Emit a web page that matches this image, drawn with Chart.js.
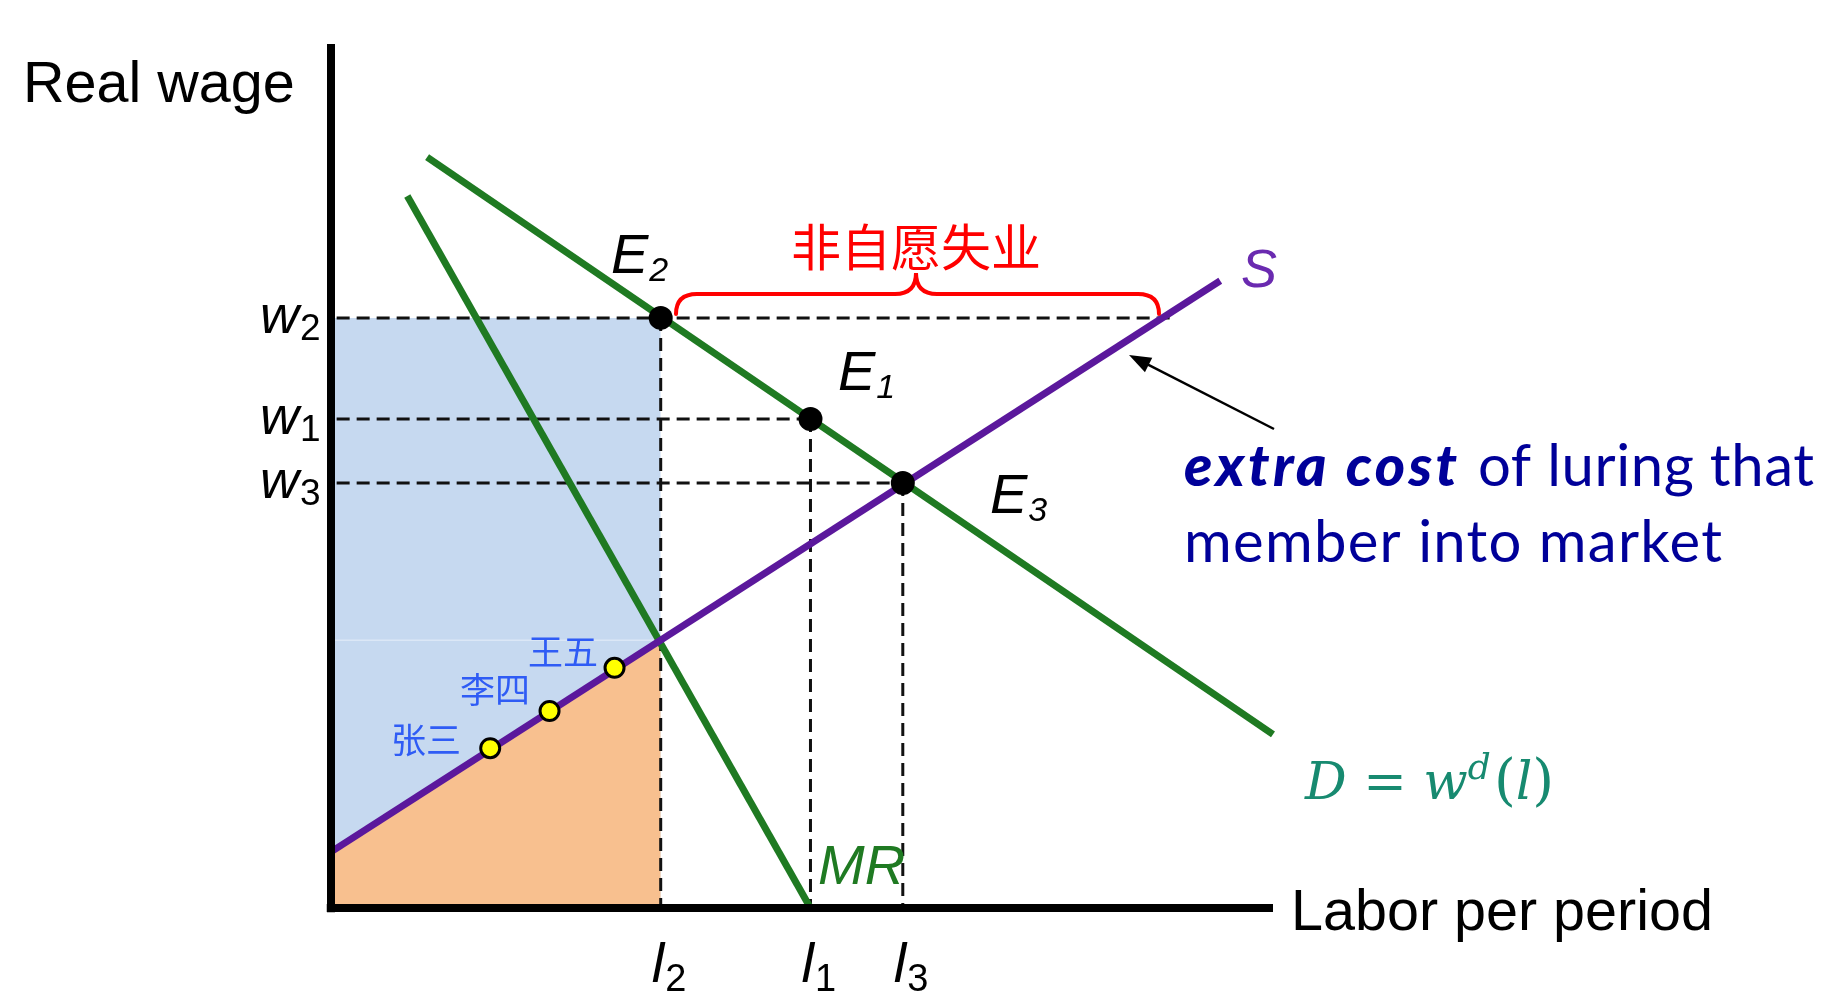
<!DOCTYPE html>
<html><head><meta charset="utf-8">
<script src="https://cdn.jsdelivr.net/npm/chart.js@4.4.0/dist/chart.umd.min.js"></script>
<style>html,body{margin:0;padding:0;background:#fff;overflow:hidden}#wrap{width:1835px;height:1000px;position:relative}</style>
</head><body><div id="wrap"><canvas id="c" width="1835" height="1000"></canvas></div>
<script>
// ---- data (axis units 0..100) ----
const supplyX = [0, 94.4];
const supplyY = [6.5, 72.6];
const demandX = [10.2, 100];
const demandY = [86.9, 20.1];
const mrX = [8.1, 50.9];
const mrY = [82.4, 0];
const eqNames = ['E2', 'E1', 'E3'];
const eqX = [35.0, 50.9, 60.7];
const eqY = [68.3, 56.6, 49.2];
const workerNames = ['张三', '李四', '王五'];
const workerX = [16.9, 23.2, 30.1];
const workerY = [18.5, 22.8, 27.8];
const wageTickLabels = ['w2', 'w1', 'w3'];
const labourTickLabels = ['l2', 'l1', 'l3'];
const orangeTopY = [6.5, 31.0];
const w2DashEndX = 89.7;
const mrSupplyCrossY = 31.0;

const pts = (xs, ys) => xs.map((x, i) => ({x, y: ys[i]}));
const GREEN = '#1f7a22', PURPLE = '#5b189c';
const dash = [13, 7];
const datasets = [];
function line(data, color, width, order, extra) {
  datasets.push(Object.assign({type: 'scatter', data, showLine: true, borderColor: color, borderWidth: width,
    pointRadius: 0, fill: false, order, borderCapStyle: 'butt'}, extra || {}));
}
// fills
line([{x: 0, y: eqY[0]}, {x: eqX[0], y: eqY[0]}], 'rgba(0,0,0,0)', 0, 100, {fill: 'origin', backgroundColor: '#c6d9f0'});
line([{x: 0, y: mrSupplyCrossY}, {x: eqX[0], y: mrSupplyCrossY}], '#dbe7f6', 1.5, 99);
line(pts([0, eqX[0]], orangeTopY), 'rgba(0,0,0,0)', 0, 98, {fill: 'origin', backgroundColor: '#f8c08f'});
// dashed guides
line([{x: 0.6, y: eqY[0]}, {x: w2DashEndX, y: eqY[0]}], '#111', 3, 90, {borderDash: dash});
line([{x: 0.6, y: eqY[1]}, {x: eqX[1], y: eqY[1]}], '#111', 3, 90, {borderDash: dash});
line([{x: 0.6, y: eqY[2]}, {x: eqX[2], y: eqY[2]}], '#111', 3, 90, {borderDash: dash});
line([{x: eqX[0], y: eqY[0]}, {x: eqX[0], y: 0}], '#111', 3, 90, {borderDash: dash});
line([{x: eqX[1], y: eqY[1]}, {x: eqX[1], y: 0}], '#111', 3, 90, {borderDash: dash});
line([{x: eqX[2], y: eqY[2]}, {x: eqX[2], y: 0}], '#111', 3, 90, {borderDash: dash});
// curves
line(pts(mrX, mrY), GREEN, 7, 50);
line(pts(demandX, demandY), GREEN, 7, 49);
line(pts(supplyX, supplyY), PURPLE, 7, 48);
// axes
line([{x: 0, y: 100}, {x: 0, y: -0.5}], '#000', 8, 20);
line([{x: -0.45, y: 0}, {x: 100, y: 0}], '#000', 8, 20);
// points
datasets.push({type: 'scatter', data: pts(eqX, eqY), pointRadius: 12, pointBackgroundColor: '#000', pointBorderWidth: 0, order: 5});
datasets.push({type: 'scatter', data: pts(workerX, workerY), pointRadius: 9.5, pointBackgroundColor: '#ffff00', pointBorderColor: '#000', pointBorderWidth: 3, order: 4});

function drawSub(ctx, base, sub, x, y, size, subSize, subDy, color, subStyle) {
  ctx.fillStyle = color;
  ctx.textBaseline = 'alphabetic';
  ctx.textAlign = 'left';
  ctx.font = 'italic ' + size + 'px "Liberation Sans", Arial, sans-serif';
  ctx.fillText(base, x, y);
  const w = ctx.measureText(base).width;
  ctx.font = (subStyle || 'italic') + ' ' + subSize + 'px "Liberation Sans", Arial, sans-serif';
  ctx.fillText(sub, x + w + 1, y + subDy);
}
function fitText(ctx, text, x, y, target) {
  ctx.letterSpacing = '0px';
  const nat = ctx.measureText(text).width;
  const sp = (target - nat) / Math.max(1, text.length - 1);
  ctx.letterSpacing = sp.toFixed(2) + 'px';
  ctx.fillText(text, x, y);
  ctx.letterSpacing = '0px';
}

const annot = {
  id: 'annot',
  afterDraw(chart) {
    const ctx = chart.ctx;
    const xs = chart.scales.x, ys = chart.scales.y;
    ctx.save();
    // axis titles
    ctx.fillStyle = '#000';
    ctx.font = '57.5px "Liberation Sans", Arial, sans-serif';
    ctx.textAlign = 'left'; ctx.textBaseline = 'alphabetic';
    ctx.fillText('Real wage', 23, 102);
    ctx.fillText('Labor per period', 1291, 930);
    // wage ticks
    wageTickLabels.forEach((t, i) => {
      const py = ys.getPixelForValue(eqY[i]);
      drawSub(ctx, t[0], t.slice(1), 260, py + 15, 54, 37, 7, '#000', 'normal');
    });
    // labour ticks
    labourTickLabels.forEach((t, i) => {
      const px = xs.getPixelForValue(eqX[i]);
      drawSub(ctx, t[0], t.slice(1), px - 9, 982, 56, 38, 9, '#000', 'normal');
    });
    // equilibrium labels
    drawSub(ctx, 'E', '2', 611, 273, 56, 34, 8, '#000');
    drawSub(ctx, 'E', '1', 838, 390, 56, 34, 8, '#000');
    drawSub(ctx, 'E', '3', 990, 513, 56, 34, 8, '#000');
    // S, MR
    ctx.font = 'italic 54px "Liberation Sans", Arial, sans-serif';
    ctx.fillStyle = '#6a2ab0';
    ctx.fillText('S', 1241, 287);
    ctx.fillStyle = GREEN;
    ctx.font = 'italic 56px "Liberation Sans", Arial, sans-serif';
    ctx.fillText('MR', 818, 884);
    // worker names
    ctx.fillStyle = '#2f5cf5';
    ctx.font = '35px "Noto Sans CJK SC", sans-serif';
    ctx.textBaseline = 'middle';
    ctx.textAlign = 'right';
    const namePos = [[461, 740], [530, 690], [598, 652]];
    workerNames.forEach((n, i) => ctx.fillText(n, namePos[i][0], namePos[i][1]));
    // brace + label
    ctx.strokeStyle = '#ff0000'; ctx.lineWidth = 4; ctx.lineCap = 'round';
    ctx.beginPath();
    ctx.moveTo(676, 314);
    ctx.quadraticCurveTo(676, 294, 697, 294);
    ctx.lineTo(895, 294);
    ctx.quadraticCurveTo(916, 294, 916, 273);
    ctx.quadraticCurveTo(916, 294, 937, 294);
    ctx.lineTo(1138, 294);
    ctx.quadraticCurveTo(1159, 294, 1159, 314);
    ctx.stroke();
    ctx.fillStyle = '#ff0000';
    ctx.font = '50px "Noto Sans CJK SC", sans-serif';
    ctx.textAlign = 'center'; ctx.textBaseline = 'middle';
    ctx.fillText('非自愿失业', 916, 247);
    // arrow
    ctx.strokeStyle = '#000'; ctx.lineWidth = 2.5; ctx.lineCap = 'butt';
    const tx = 1129, ty = 355, sx = 1274, sy = 429;
    const ang = Math.atan2(ty - sy, tx - sx);
    ctx.beginPath(); ctx.moveTo(sx, sy); ctx.lineTo(tx - 12 * Math.cos(ang), ty - 12 * Math.sin(ang)); ctx.stroke();
    ctx.fillStyle = '#000';
    ctx.beginPath();
    ctx.moveTo(tx, ty);
    ctx.lineTo(tx - 22 * Math.cos(ang) + 8 * Math.sin(ang), ty - 22 * Math.sin(ang) - 8 * Math.cos(ang));
    ctx.lineTo(tx - 22 * Math.cos(ang) - 8 * Math.sin(ang), ty - 22 * Math.sin(ang) + 8 * Math.cos(ang));
    ctx.closePath(); ctx.fill();
    // explanation text
    ctx.textAlign = 'left'; ctx.textBaseline = 'alphabetic';
    ctx.fillStyle = '#000099';
    ctx.font = 'italic 900 58px Lato, sans-serif';
    fitText(ctx, 'extra cost', 1184, 486, 273);
    ctx.font = '58px Lato, sans-serif';
    fitText(ctx, 'of luring that', 1478, 486, 336);
    fitText(ctx, 'member into market', 1184, 562, 538);
    // D = w^d(l)
    ctx.fillStyle = '#178a70';
    let x = 1305; const by = 799;
    const parts = [['D', 'italic', 52, 0], [' = ', 'normal', 52, 0], ['w', 'italic', 52, 0], ['d', 'italic', 36, -20], ['(', 'normal', 56, 0], ['l', 'italic', 52, 0], [')', 'normal', 56, 0]];
    parts.forEach(p => {
      ctx.font = p[1] + ' ' + p[2] + 'px "DejaVu Serif", "Liberation Serif", serif';
      ctx.fillText(p[0], x, by + p[3]);
      x += ctx.measureText(p[0]).width + (p[0] === 'd' ? 3 : 0);
    });
    ctx.restore();
  }
};

new Chart(document.getElementById('c'), {
  type: 'scatter',
  data: {datasets},
  options: {
    responsive: false, animation: false,
    layout: {padding: {left: 331, right: 562, top: 44, bottom: 92}},
    plugins: {legend: {display: false}, tooltip: {enabled: false}},
    scales: {
      x: {type: 'linear', min: 0, max: 100, display: false},
      y: {type: 'linear', min: 0, max: 100, display: false}
    },
    clip: false
  },
  plugins: [annot]
});
</script></body></html>
